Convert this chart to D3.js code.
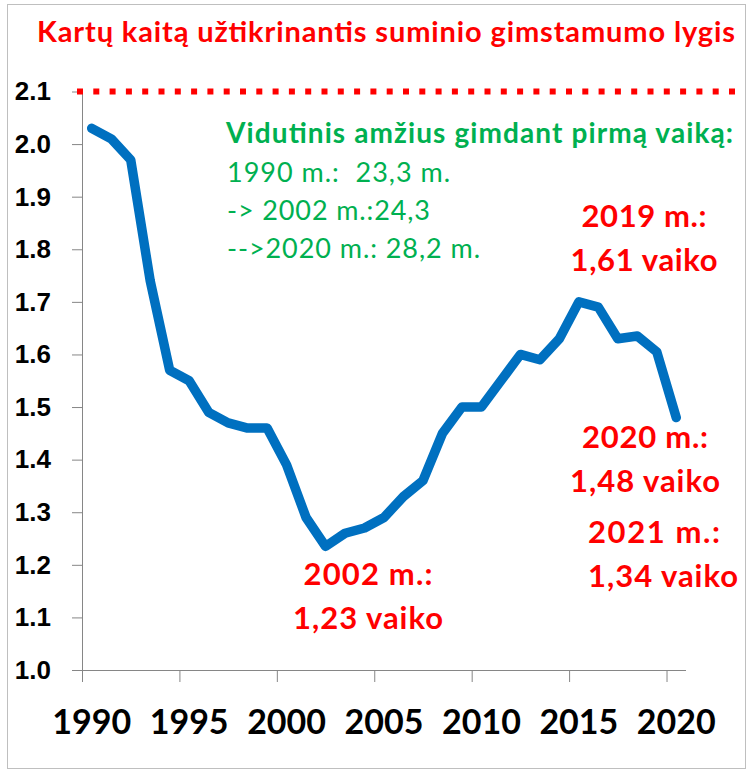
<!DOCTYPE html>
<html>
<head>
<meta charset="utf-8">
<script src="https://cdn.jsdelivr.net/npm/d3@7"></script>
<style>
  html, body { margin: 0; padding: 0; background: #fff; }
  svg { display: block; font-family: Lato, "Open Sans", sans-serif; }
</style>
</head>
<body>
<svg id="chart" width="750" height="771"></svg>
<script>
// total fertility rate, Lithuania
const years = d3.range(1990, 2021);
const tfr = [2.03, 2.01, 1.97, 1.74, 1.57, 1.55, 1.49, 1.47, 1.46, 1.46,
             1.39, 1.29, 1.235, 1.26, 1.27, 1.29, 1.33, 1.36, 1.45, 1.50,
             1.50, 1.55, 1.60, 1.59, 1.63, 1.70, 1.69, 1.63, 1.635, 1.605, 1.48];
const replacementLevel = 2.1;
const yTicks = d3.range(10, 22).map(d => d / 10);
const xTickYears = [1990, 1995, 2000, 2005, 2010, 2015, 2020];

const title = "Kartų kaitą užtikrinantis suminio gimstamumo lygis";
const ageHeader = "Vidutinis amžius gimdant pirmą vaiką:";
const ageLines = ["1990 m.:  23,3 m.", "-> 2002 m.:24,3", "-->2020 m.: 28,2 m."];
const ageWidths = [223, 203, 253];
const notes = [
  {lines: ["2002 m.:", "1,23 vaiko"], widths: [129, 150], x: 368, y: 585, anchor: "middle"},
  {lines: ["2019 m.:", "1,61 vaiko"], widths: [125, 147], x: 644, y: 227, anchor: "middle"},
  {lines: ["2020 m.:", "1,48 vaiko"], widths: [126, 150], x: 645, y: 448, anchor: "middle"},
  {lines: ["2021 m.:", "1,34 vaiko"], widths: [132, 150], x: 588, y: 543, anchor: "start"}
];

const red = "#ff0000", green = "#00b050", blue = "#0070c0", axisCol = "#868686";

const svg = d3.select("#chart");

// chart frame
svg.append("rect")
    .attr("x", 7.5).attr("y", 4.5)
    .attr("width", 738).attr("height", 764)
    .attr("fill", "none")
    .attr("stroke", "#bfbfbf");

const x = d3.scaleLinear().domain([1990, 2021]).range([82, 686]);
const y = d3.scaleLinear().domain([1.0, 2.1]).range([670, 91.5]);

// y axis
const yAxis = svg.append("g")
    .attr("transform", "translate(82,0)")
    .call(d3.axisLeft(y).tickValues(yTicks).tickSize(10).tickSizeOuter(0).tickFormat(d3.format(".1f")));
yAxis.select(".domain").attr("stroke", axisCol);
yAxis.selectAll(".tick line").attr("stroke", axisCol);
yAxis.selectAll(".tick text")
    .attr("x", -31)
    .attr("fill", "#000")
    .style("font-size", "26px")
    .style("font-weight", "bold");

// x axis: tick marks on category borders, labels centred in the category
const xAxis = svg.append("g")
    .attr("transform", "translate(0,670)")
    .call(d3.axisBottom(x).tickValues(xTickYears).tickSize(12).tickSizeOuter(0).tickFormat(""));
xAxis.select(".domain").attr("stroke", axisCol).attr("d", "M72,0.5H686");
xAxis.selectAll(".tick line").attr("stroke", axisCol);

svg.append("g").selectAll("text")
  .data(xTickYears)
  .join("text")
    .attr("x", d => x(d + 0.5))
    .attr("y", 734)
    .attr("text-anchor", "middle")
    .style("font-size", "34px")
    .style("font-weight", "bold")
    .text(d => d);

// replacement level
svg.append("line")
    .attr("x1", 77).attr("x2", 735)
    .attr("y1", y(replacementLevel)).attr("y2", y(replacementLevel))
    .attr("stroke", red)
    .attr("stroke-width", 6)
    .attr("stroke-dasharray", "6 10.3");

// TFR line
const line = d3.line()
    .x((d, i) => x(years[i] + 0.5))
    .y(d => y(d));

svg.append("path")
    .datum(tfr)
    .attr("d", line)
    .attr("fill", "none")
    .attr("stroke", blue)
    .attr("stroke-width", 9.5)
    .attr("stroke-linecap", "round")
    .attr("stroke-linejoin", "round");

// title
svg.append("text")
    .attr("x", 37).attr("y", 42)
    .attr("fill", red)
    .attr("textLength", 698)
    .style("font-size", "29px")
    .style("font-weight", "bold")
    .text(title);

// mean age at first birth
svg.append("text")
    .attr("x", 226).attr("y", 143)
    .attr("fill", green)
    .attr("textLength", 507)
    .style("font-size", "28px")
    .style("font-weight", "bold")
    .text(ageHeader);

svg.append("g").selectAll("text")
  .data(ageLines)
  .join("text")
    .attr("x", 227)
    .attr("y", (d, i) => 182 + i * 38)
    .attr("fill", green)
    .attr("textLength", (d, i) => ageWidths[i])
    .style("font-size", "27px")
    .style("white-space", "pre")
    .text(d => d);

// red notes
notes.forEach(n => {
  svg.append("g").selectAll("text")
    .data(n.lines)
    .join("text")
      .attr("x", n.x)
      .attr("y", (d, i) => n.y + i * 44)
      .attr("text-anchor", n.anchor)
      .attr("fill", red)
      .attr("textLength", (d, i) => n.widths[i])
      .style("font-size", "31px")
      .style("font-weight", "bold")
      .text(d => d);
});
</script>
</body>
</html>
